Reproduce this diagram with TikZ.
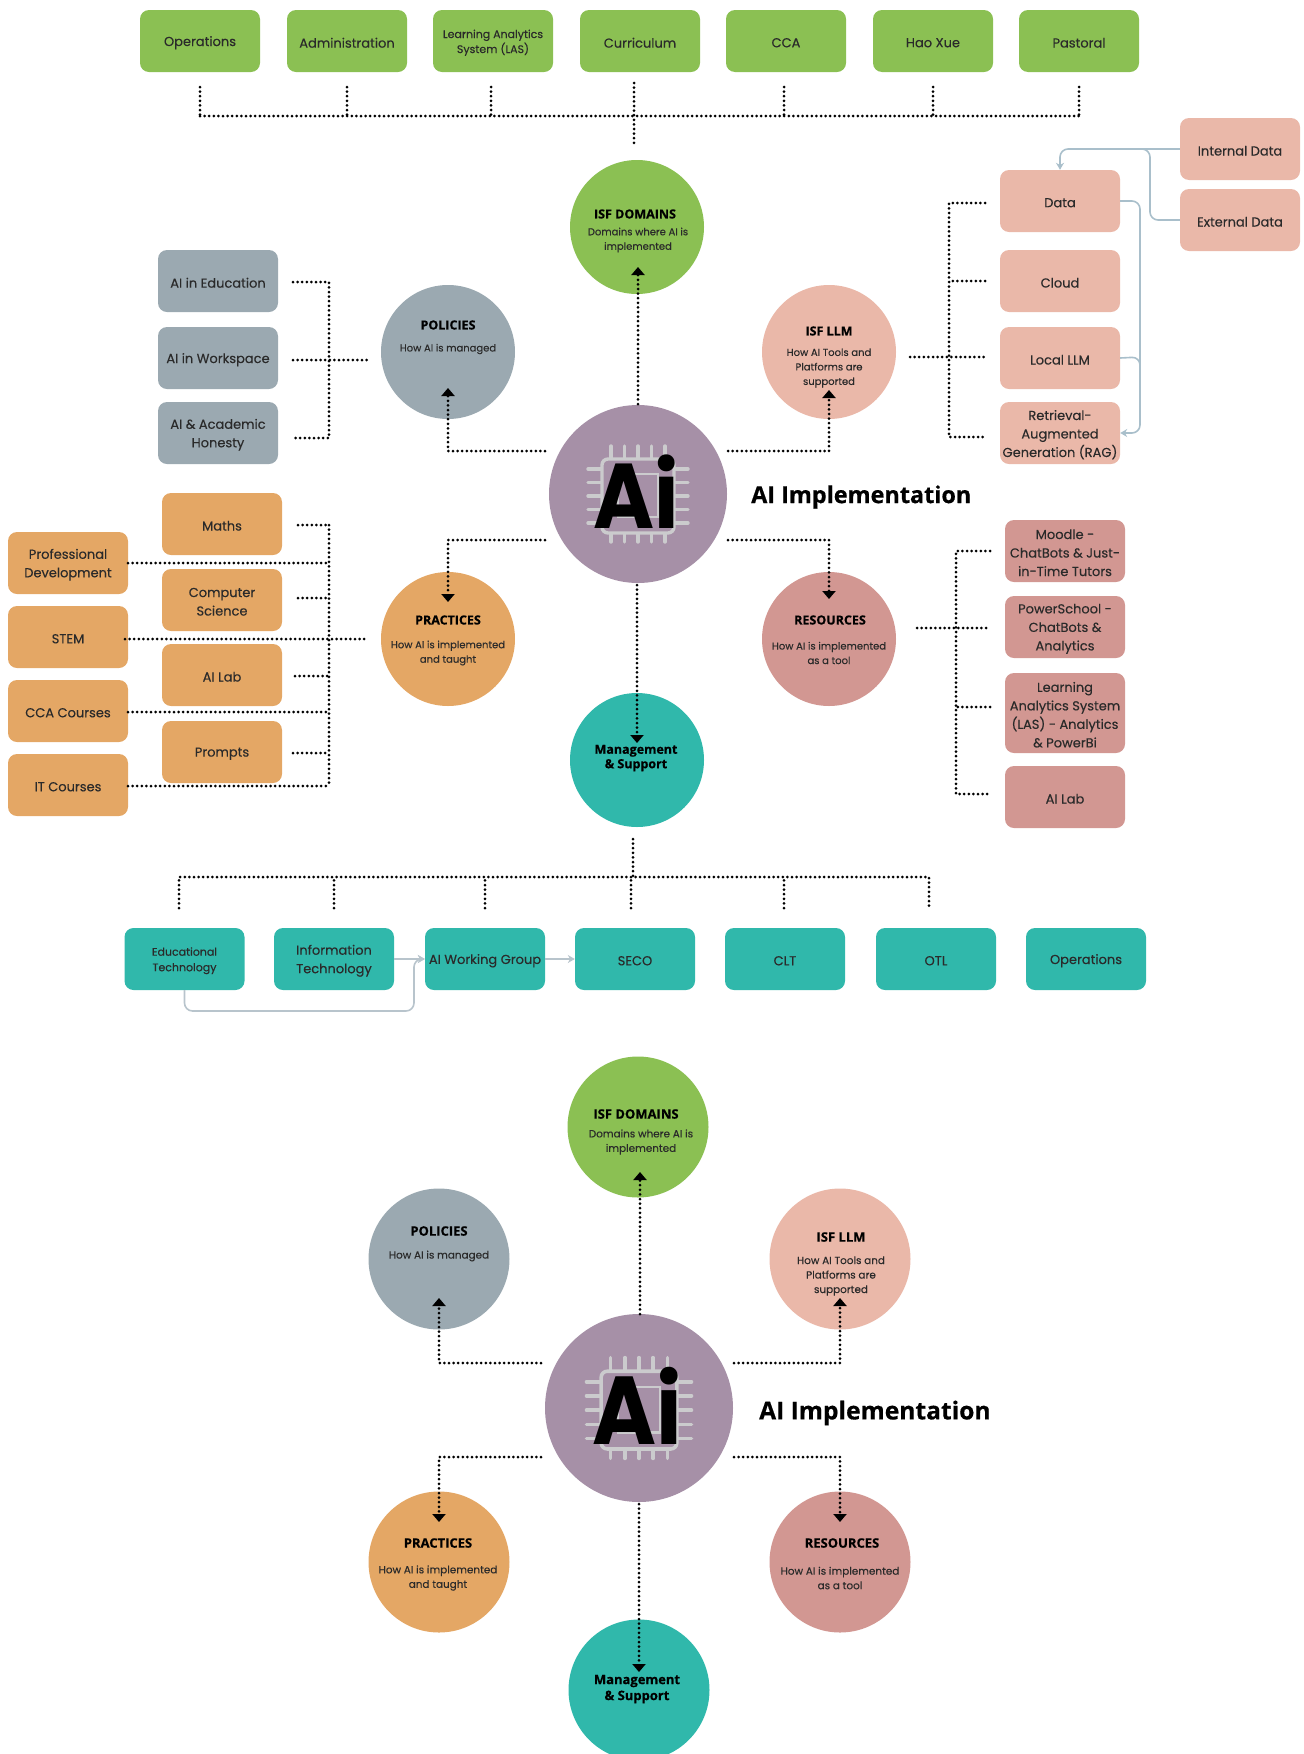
\documentclass[tikz,border=0pt]{standalone}
\usepackage{fontspec}
\setmainfont[FakeBold=0.25]{Poppins}
\newfontfamily\headfont[BoldFeatures={FakeBold=0.5}]{Open Sans}
\newfontfamily\logofont{Poppins}
\usetikzlibrary{arrows.meta}
\definecolor{cgreen}{HTML}{8BC053}
\definecolor{cgrey}{HTML}{9BA9B1}
\definecolor{cpink}{HTML}{EAB8A9}
\definecolor{corange}{HTML}{E4A765}
\definecolor{crose}{HTML}{D29792}
\definecolor{cteal}{HTML}{30B8AB}
\definecolor{cpurple}{HTML}{A690A7}
\definecolor{cflowblue}{HTML}{A9BFCB}
\definecolor{cflowgrey}{HTML}{B8C4CC}
\definecolor{cchip}{HTML}{CBCBCD}
\definecolor{ctext}{HTML}{2A2A2A}
\tikzset{
  boxnode/.style={draw=none,rounded corners=9pt,minimum width=120pt,minimum height=62pt,inner sep=0pt,align=center,text=ctext,font=\fontsize{13}{18.5}\selectfont,
    execute at begin node={\vbox\bgroup\kern3.5pt\hbox\bgroup},execute at end node={\egroup\egroup}},
  disc/.style={circle,draw=none,inner sep=0pt,minimum size=#1},
  dotline/.style={line width=3pt,dash pattern=on 0pt off 4.6pt,line cap=round,black},
  dotarrow/.style={dotline,-{Triangle[width=13pt,length=8pt,line cap=butt]}},
  flow/.style={line width=1.6pt,rounded corners=8pt,-{Stealth[length=7pt,width=8pt]}},
  flowplain/.style={line width=1.6pt,rounded corners=8pt},
  titletext/.style={font=\headfont\bfseries\fontsize{#1}{#1}\selectfont,text=black,inner sep=0pt},
  subtext/.style={font=\fontsize{#1}{14.5}\selectfont,text=ctext,align=center,inner sep=0pt},
  headline/.style={font=\headfont\bfseries\fontsize{#1}{#1}\selectfont,text=black,anchor=west,inner sep=0pt},
}
\newcommand{\chipmark}[6]{%
  \begin{scope}[shift={(#1,#2)},scale=#3]
    \foreach \p in {-27,-13.5,0,13.5,27} {
      \draw[cchip,line width=#3*3.4pt,line cap=round] (\p,-48) -- (\p,48);
      \draw[cchip,line width=#3*3.4pt,line cap=round] (-50,\p+2) -- (50,\p+2);
    }
    \fill[#5,rounded corners=6pt] (-36,-35) rectangle (36,39);
    \draw[cchip,line width=#3*3.4pt,rounded corners=6pt] (-36,-35) rectangle (36,39);
    \draw[cchip,line width=#3*2.6pt] (-20,-20) rectangle (20,23);
    \node[name=#4,font=\logofont\bfseries\fontsize{#6}{#6}\selectfont,text=black,anchor=base,inner sep=0pt,xscale=.9] at (-2,34.5) {Ai};
  \end{scope}}
\begin{document}
\begin{tikzpicture}[x=1pt,y=-1pt]
\useasboundingbox (0,0) rectangle (1304,1754);
\clip (0,0) rectangle (1304,1754);

% ---- top row
\foreach \n/\x/\t in {op/200/Operations,adm/347/Administration,cur/640/Curriculum,cca/786/CCA,hao/933/Hao Xue,pas/1079/Pastoral}
  \node[boxnode,fill=cgreen,name=\n] at (\x,41) {\t};
\node[boxnode,fill=cgreen,name=las,font=\fontsize{11}{15}\selectfont] at (493,41) {Learning Analytics\\System (LAS)};

% ---- circles, upper diagram
\node[disc=134pt,fill=cgreen,name=dom] at (637,227) {};
\node[disc=134pt,fill=cgrey,name=pol] at (448,352) {};
\node[disc=134pt,fill=cpink,name=llm] at (829,352) {};
\node[disc=178pt,fill=cpurple,name=ai] at (638,494) {};
\node[disc=134pt,fill=corange,name=pra] at (448,639) {};
\node[disc=134pt,fill=crose,name=res] at (829,639) {};
\node[disc=134pt,fill=cteal,name=mgt] at (637,760) {};
\chipmark{638}{494}{1}{aitext}{cpurple}{92}
\node[headline=23.4,name=aihead] at (751,497) {AI Implementation};

\node[titletext=12.5,name=domt] at (635,214) {ISF DOMAINS};
\node[subtext=10,name=doms] at (638,240) {Domains where AI is\\implemented};
\node[titletext=12.5,name=polt] at (448,325) {POLICIES};
\node[subtext=10,name=pols] at (448,349) {How AI is managed};
\node[titletext=12.5,name=llmt] at (829,331) {ISF LLM};
\node[subtext=10,name=llms] at (829,368) {How AI Tools and\\Platforms are\\supported};
\node[titletext=12.5,name=prat] at (448,620) {PRACTICES};
\node[subtext=10,name=pras] at (448,653) {How AI is implemented\\and taught};
\node[titletext=12.5,name=rest] at (830,620) {RESOURCES};
\node[subtext=10,name=ress] at (829,653) {How AI is implemented\\as a tool};
\node[titletext=12.5,name=mgtt,align=center,font=\headfont\bfseries\fontsize{12.5}{14.5}\selectfont] at (636,758) {Management\\\& Support};

% ---- policies boxes
\foreach \n/\y/\t in {pa/281/AI in Education,pb/358/AI in Workspace,pc/433/AI \& Academic\\Honesty}
  \node[boxnode,fill=cgrey,name=\n] at (218,\y) {\t};

% ---- LLM boxes
\foreach \n/\y/\t in {lda/201/Data,lcl/281/Cloud,lll/358/Local LLM,lra/433/Retrieval-\\Augmented\\Generation (RAG)}
  \node[boxnode,fill=cpink,name=\n] at (1060,\y) {\t};
\node[boxnode,fill=cpink,name=lin] at (1240,149) {Internal Data};
\node[boxnode,fill=cpink,name=lex] at (1240,220) {External Data};

% ---- practices boxes
\foreach \n/\y/\t in {ma/524/Maths,cs/600/Computer\\Science,al/675/AI Lab,pr/752/Prompts}
  \node[boxnode,fill=corange,name=\n] at (222,\y) {\t};
\foreach \n/\y/\t in {pd/563/Professional\\Development,st/637/STEM,cc/711/CCA Courses,it/785/IT Courses}
  \node[boxnode,fill=corange,name=\n] at (68,\y) {\t};

% ---- resources boxes
\node[boxnode,fill=crose,name=ra] at (1065,551) {Moodle -\\ChatBots \& Just-\\in-Time Tutors};
\node[boxnode,fill=crose,name=rb] at (1065,627) {PowerSchool -\\ChatBots \&\\Analytics};
\node[boxnode,fill=crose,name=rc,minimum height=80pt] at (1065,713) {Learning\\Analytics System\\(LAS) - Analytics\\\& PowerBi};
\node[boxnode,fill=crose,name=rd] at (1065,797) {AI Lab};

% ---- management boxes
\node[boxnode,fill=cteal,name=ma1,font=\fontsize{11}{15.5}\selectfont] at (184.5,959) {Educational\\Technology};
\node[boxnode,fill=cteal,name=ma2] at (334,959) {Information\\Technology};
\node[boxnode,fill=cteal,name=ma3] at (485,959) {AI Working Group};
\node[boxnode,fill=cteal,name=ma4] at (635,959) {SECO};
\node[boxnode,fill=cteal,name=ma5] at (785,959) {CLT};
\node[boxnode,fill=cteal,name=ma6] at (936,959) {OTL};
\node[boxnode,fill=cteal,name=ma7] at (1086,959) {Operations};

% ---- free ends of the dotted connectors
\foreach \n/\x/\y in {
  ts1/200/87,ts2/347/87,ts3/491/87,ts4/784/87,ts5/933/87,ts6/1079/87,
  tb1/200/116,tb2/347/116,tb3/491/116,tb4/634/116,tb5/784/116,tb6/933/116,tb7/1079/116,
  st1/634/83,st2/634/146,
  da1/638/404,da2/638/267,
  da3/728/451,da4/829/451,da5/829/390,
  da6/728/540,da7/829/540,da8/829/599,
  da9/545/451,da10/448/451,da11/448/388,
  da12/545/540,da13/448/540,da14/448/602,
  da15/637/585,da16/637/743,
  pa1/293/282,pa2/329/282,pb1/293/360,pb2/329/360,pb3/367/360,pc1/293/438,pc2/329/438,
  ll1/985/203,ll2/949/203,ll3/985/281,ll4/949/281,ll5/910/357,ll6/949/357,ll7/985/357,ll8/985/437,ll9/949/437,
  m1/298/525,m2/329/525,m3/298/598,m4/329/598,m5/295/676,m6/329/676,m7/293/753,m8/329/753,
  m9/128/563,m10/329/563,m11/125/639,m12/368/639,m13/128/712,m14/329/712,m15/128/786,m16/329/786,
  r1/990/551,r2/956/551,r3/917/628,r4/990/628,r5/990/707,r6/956/707,r7/990/794,r8/956/794,r9/956/628,
  g1/633/839,g2/633/877,g3/179/908,g4/179/877,g5/334/908,g6/334/877,g7/485/908,g8/485/877,
  g9/631/908,g10/631/877,g11/784/908,g12/784/877,g13/929/908,g14/929/877,
  b1/640/1314,b2/640/1172,b3/734/1363,b4/840/1363,b5/840/1298,
  b6/734/1457,b7/840/1457,b8/840/1522,
  b9/541/1363,b10/439/1363,b11/439/1298,
  b12/541/1457,b13/439/1457,b14/439/1522,
  b15/639/1504,b16/639/1672}
  \coordinate (\n) at (\x,\y);

% ---- dotted connectors
\draw[dotline] (tb1) -- (tb7);
\foreach \a/\b in {ts1/tb1,ts2/tb2,ts3/tb3,ts4/tb5,ts5/tb6,ts6/tb7,st1/st2}
  \draw[dotline] (\a) -- (\b);
\draw[dotarrow] (da1) -- (da2);
\draw[dotarrow] (da3) -- (da4) -- (da5);
\draw[dotarrow] (da6) -- (da7) -- (da8);
\draw[dotarrow] (da9) -- (da10) -- (da11);
\draw[dotarrow] (da12) -- (da13) -- (da14);
\draw[dotarrow] (da15) -- (da16);
\draw[dotline] (pa1) -- (pa2) -- (pc2) -- (pc1);
\draw[dotline] (pb1) -- (pb3);
\draw[dotline] (ll1) -- (ll2) -- (ll9) -- (ll8);
\draw[dotline] (ll3) -- (ll4);
\draw[dotline] (ll5) -- (ll7);
\draw[dotline] (m2) -- (m16);
\foreach \a/\b in {m1/m2,m3/m4,m5/m6,m7/m8,m9/m10,m11/m12,m13/m14,m15/m16}
  \draw[dotline] (\a) -- (\b);
\draw[dotline] (r1) -- (r2) -- (r8) -- (r7);
\draw[dotline] (r3) -- (r4);
\draw[dotline] (r5) -- (r6);
\draw[dotline] (g1) -- (g2);
\draw[dotline] (g3) -- (g4) -- (g14) -- (g13);
\foreach \a/\b in {g5/g6,g7/g8,g9/g10,g11/g12}
  \draw[dotline] (\a) -- (\b);

% ---- solid flows
\draw[flow,cflowblue] (lin.west) -- (1060,149) -- (lda.north);
\draw[flowplain,cflowblue] (lex.west) -- (1150,220) -- (1150,149) -- (1140,149);
\draw[flow,cflowblue] (lda.east) -- (1140,201) -- (1140,433) -- (lra.east);
\draw[flowplain,cflowblue] (lll.east) -- (1140,357) -- (1140,380);
\draw[flow,cflowgrey] (ma1.south) -- (184.5,1011) -- (414,1011) -- (414,959) -- (ma3.west);
\draw[flow,cflowgrey] (ma2.east) -- (ma3.west);
\draw[flow,cflowgrey] (ma3.east) -- (ma4.west);

% ---- lower diagram
\node[disc=141pt,fill=cgreen,name=dom2] at (638,1127) {};
\node[disc=141pt,fill=cgrey,name=pol2] at (439,1259) {};
\node[disc=141pt,fill=cpink,name=llm2] at (840,1259) {};
\node[disc=188pt,fill=cpurple,name=ai2] at (639,1408) {};
\node[disc=141pt,fill=corange,name=pra2] at (439,1562) {};
\node[disc=141pt,fill=crose,name=res2] at (840,1562) {};
\node[disc=141pt,fill=cteal,name=mgt2] at (639,1690) {};
\chipmark{639}{1408}{1.05}{aitext2}{cpurple}{96.5}
\node[headline=24.6,name=aihead2] at (759,1413) {AI Implementation};

\node[titletext=13,name=domt2] at (636,1114) {ISF DOMAINS};
\node[subtext=10.4,name=doms2] at (641,1142) {Domains where AI is\\implemented};
\node[titletext=13,name=polt2] at (439,1231) {POLICIES};
\node[subtext=10.4,name=pols2] at (439,1256) {How AI is managed};
\node[titletext=13,name=llmt2] at (841,1237) {ISF LLM};
\node[subtext=10.4,name=llms2] at (841,1276) {How AI Tools and\\Platforms are\\supported};
\node[titletext=13,name=prat2] at (438,1543) {PRACTICES};
\node[subtext=10.4,name=pras2] at (438,1578) {How AI is implemented\\and taught};
\node[titletext=13,name=rest2] at (842,1543) {RESOURCES};
\node[subtext=10.4,name=ress2] at (840,1578) {How AI is implemented\\as a tool};
\node[titletext=13,name=mgtt2,align=center,font=\headfont\bfseries\fontsize{13}{16}\selectfont] at (637,1689) {Management\\\& Support};

\draw[dotarrow] (b1) -- (b2);
\draw[dotarrow] (b3) -- (b4) -- (b5);
\draw[dotarrow] (b6) -- (b7) -- (b8);
\draw[dotarrow] (b9) -- (b10) -- (b11);
\draw[dotarrow] (b12) -- (b13) -- (b14);
\draw[dotarrow] (b15) -- (b16);
\end{tikzpicture}
\end{document}
